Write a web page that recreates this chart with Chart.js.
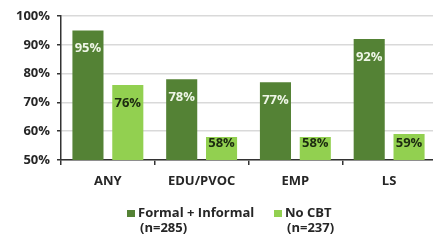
<!DOCTYPE html>
<html>
<head>
<meta charset="utf-8">
<script src="https://cdn.jsdelivr.net/npm/chart.js@4/dist/chart.umd.min.js"></script>
<style>
  html, body { margin: 0; padding: 0; background: #fff; overflow: hidden; }
  #wrap { width: 436px; height: 244px; }
</style>
</head>
<body>
<div id="wrap"><canvas id="cbtChart"></canvas></div>
<script>
const categories = ['ANY', 'EDU/PVOC', 'EMP', 'LS'];
const formalInformal = [95, 78, 77, 92];
const noCbt = [76, 58, 58, 59];
const seriesLabels = [['Formal + Informal', '(n=285)'], ['No CBT', '(n=237)']];
const yTicks = [50, 60, 70, 80, 90, 100];

const darkGreen = '#548235';
const lightGreen = '#92d050';
const fontFamily = '"Open Sans", Lato, sans-serif';

// value labels inside top of each bar (short bars: kept inside)
const barLabels = {
    id: 'barLabels',
    afterDatasetsDraw(chart) {
        const ctx = chart.ctx;
        const base = chart.chartArea.bottom;
        ctx.save();
        ctx.font = 'bold 13px ' + fontFamily;
        ctx.textAlign = 'center';
        ctx.textBaseline = 'middle';
        chart.data.datasets.forEach((ds, i) => {
            chart.getDatasetMeta(i).data.forEach((bar, j) => {
                ctx.fillStyle = i === 0 ? '#eef5e6' : '#1c2a10';
                const y = Math.min(bar.y + 18, base - 17);
                ctx.fillText(ds.data[j] + '%', bar.x, y);
            });
        });
        ctx.restore();
    }
};

// two-line legend under the axis
const twoLineLegend = {
    id: 'twoLineLegend',
    afterDraw(chart) {
        const ctx = chart.ctx;
        const starts = [127, 274];
        ctx.save();
        ctx.font = 'bold 13px ' + fontFamily;
        ctx.textBaseline = 'middle';
        ctx.textAlign = 'left';
        chart.data.datasets.forEach((ds, i) => {
            const x = starts[i];
            ctx.fillStyle = ds.backgroundColor;
            ctx.fillRect(x, 210, 8, 7);
            ctx.fillStyle = '#262626';
            ds.legendLines.forEach((line, k) => {
                ctx.fillText(line, x + 11 + k * 2, 213 + k * 15);
            });
        });
        ctx.restore();
    }
};

new Chart(document.querySelector('#cbtChart'), {
    type: 'bar',
    data: {
        labels: categories,
        datasets: [{
            label: seriesLabels[0].join(' '),
            legendLines: seriesLabels[0],
            data: formalInformal,
            backgroundColor: darkGreen,
            categoryPercentage: 0.85,
            barPercentage: 0.78
        }, {
            label: seriesLabels[1].join(' '),
            legendLines: seriesLabels[1],
            data: noCbt,
            backgroundColor: lightGreen,
            categoryPercentage: 0.85,
            barPercentage: 0.78
        }]
    },
    options: {
        responsive: true,
        maintainAspectRatio: false,
        animation: false,
        layout: { padding: { top: 16, right: 0, bottom: 0, left: 0 } },
        plugins: {
            legend: { display: false },
            tooltip: { enabled: false }
        },
        scales: {
            x: {
                afterFit: (s) => { s.height = 84; },
                border: { color: '#333', width: 1.5 },
                grid: {
                    offset: true,
                    drawOnChartArea: false,
                    tickLength: 5,
                    tickColor: '#333',
                    lineWidth: 1.5
                },
                ticks: {
                    padding: 8,
                    color: '#262626',
                    font: { family: fontFamily, size: 13, weight: 'bold' }
                }
            },
            y: {
                min: 50,
                max: 100,
                afterFit: (s) => { s.width = 61; },
                afterBuildTicks: (s) => { s.ticks = yTicks.map(v => ({ value: v })); },
                border: { color: '#333', width: 1.5 },
                grid: {
                    color: '#d9d9d9',
                    lineWidth: 1.5,
                    tickLength: 4,
                    tickColor: '#333'
                },
                ticks: {
                    padding: 7,
                    color: '#262626',
                    font: { family: fontFamily, size: 13, weight: 'bold' },
                    callback: (v) => v + '%'
                }
            }
        }
    },
    plugins: [barLabels, twoLineLegend]
});
</script>
</body>
</html>
